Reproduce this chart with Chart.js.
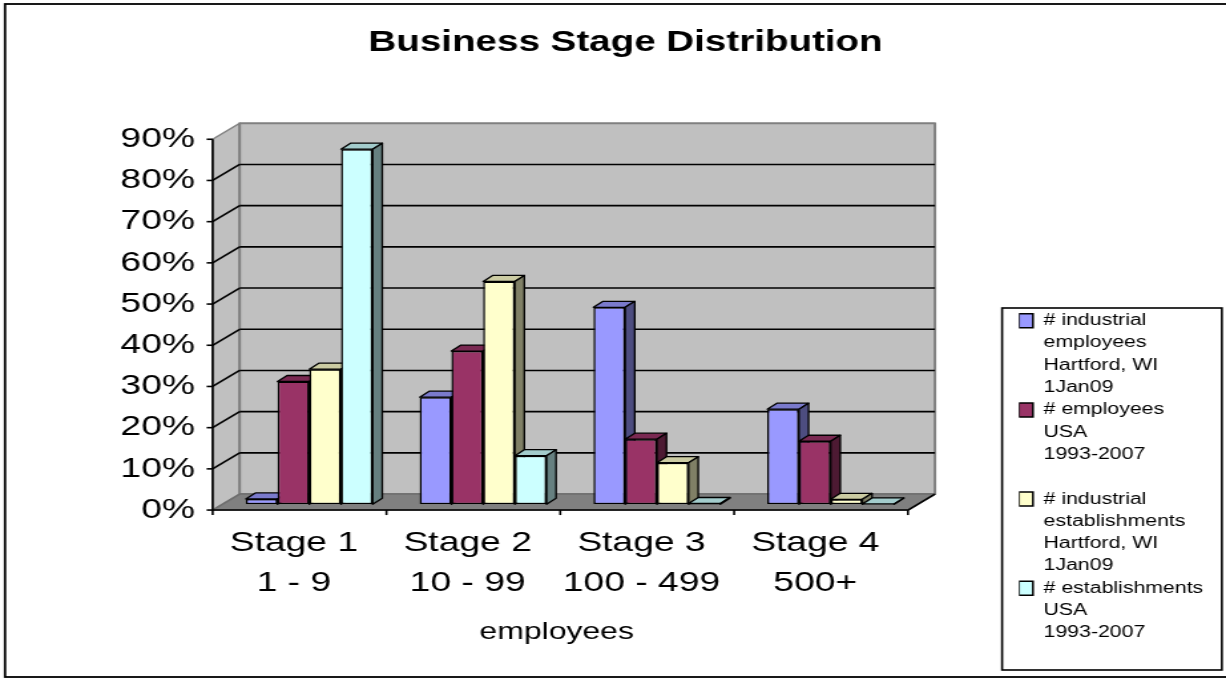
<!DOCTYPE html>
<html>
<head>
<meta charset="utf-8">
<script src="https://cdn.jsdelivr.net/npm/chart.js@4/dist/chart.umd.min.js"></script>
<style>
  html, body { margin: 0; padding: 0; background: #fff; }
  #chart { display: block; }
</style>
</head>
<body>
<!-- the original picture is stretched sideways, so the canvas is too (inline size so Chart.js keeps it) -->
<canvas id="chart" width="922" height="680" style="width:1226px;height:680px"></canvas>
<script>
// values, in percent
const stages = [['Stage 1', '1 - 9'], ['Stage 2', '10 - 99'], ['Stage 3', '100 - 499'], ['Stage 4', '500+']];
const industrialEmployees = [1.3, 26.0, 47.8, 23.1];
const employeesUSA = [29.8, 37.2, 15.8, 15.3];
const industrialEstablishments = [32.8, 54.1, 10.1, 1.2];
const establishmentsUSA = [86.2, 11.8, 0.2, 0.1];
const yTicks = [0, 10, 20, 30, 40, 50, 60, 70, 80, 90];

const legendLines = [
    ['# industrial', 'employees', 'Hartford, WI', '1Jan09'],
    ['# employees', 'USA', '1993-2007', ''],
    ['# industrial', 'establishments', 'Hartford, WI', '1Jan09'],
    ['# establishments', 'USA', '1993-2007']
];

const FONT = '"Liberation Sans", Arial, sans-serif';
const W = 922;

// colours: front face, top face, side face
const colors = [
    ['#9999ff', '#7a7acc', '#4d4d80'],
    ['#993366', '#7a2952', '#4d1a33'],
    ['#ffffcc', '#ccccA3', '#808066'],
    ['#ccffff', '#a3cccc', '#668080']
];

// depth of the box (front -> back) and where the bars stand in it
const DX = 20.3, DY = -16, FRONT = 0.36;
const BAR_DX = 7.2, BAR_DY = -6;

// legend placement: work out the right padding so the legend starts at x=766
const mctx = document.createElement('canvas').getContext('2d');
mctx.font = '16px ' + FONT;
let maxText = 0;
legendLines.flat().forEach(t => { maxText = Math.max(maxText, mctx.measureText(t).width); });
const legendWidth = 10.5 + 8 + maxText + 10;
const padRight = W - 766.3 - legendWidth;

function poly(ctx, pts, fill, stroke, lw) {
    ctx.beginPath();
    ctx.moveTo(pts[0][0], pts[0][1]);
    for (let i = 1; i < pts.length; i++) ctx.lineTo(pts[i][0], pts[i][1]);
    ctx.closePath();
    if (fill) { ctx.fillStyle = fill; ctx.fill(); }
    if (stroke) { ctx.strokeStyle = stroke; ctx.lineWidth = lw; ctx.stroke(); }
}

function line(ctx, x1, y1, x2, y2) {
    ctx.beginPath();
    ctx.moveTo(x1, y1);
    ctx.lineTo(x2, y2);
    ctx.stroke();
}

// walls, floor, axes and the top/side faces of the bars
const box3d = {
    id: 'box3d',
    beforeDatasetsDraw(chart) {
        const ctx = chart.ctx;
        const xs = chart.scales.x, ys = chart.scales.y;
        const L = xs.left, R = xs.right;
        const fx = -FRONT * DX, fy = -FRONT * DY;
        const bx = (1 - FRONT) * DX, by = (1 - FRONT) * DY;
        const y0 = ys.getPixelForValue(0);
        const yTop = ys.getPixelForValue(yTicks[yTicks.length - 1]);

        ctx.save();
        ctx.lineJoin = 'round';
        // left wall, back wall, floor
        poly(ctx, [[L + fx, y0 + fy], [L + fx, yTop + fy], [L + bx, yTop + by], [L + bx, y0 + by]], '#c0c0c0', '#808080', 1.5);
        poly(ctx, [[L + bx, yTop + by], [R + bx, yTop + by], [R + bx, y0 + by], [L + bx, y0 + by]], '#c0c0c0', '#808080', 2);
        poly(ctx, [[L + fx, y0 + fy], [R + fx, y0 + fy], [R + bx, y0 + by], [L + bx, y0 + by]], '#808080', '#6e6e6e', 1.5);

        // grid lines on both walls
        ctx.strokeStyle = '#000';
        ctx.lineWidth = 1.6;
        yTicks.forEach(v => {
            if (v === 0 || v === yTicks[yTicks.length - 1]) return;
            const p = ys.getPixelForValue(v);
            line(ctx, L + fx, p + fy, L + bx, p + by);
            line(ctx, L + bx, p + by, R + bx, p + by);
        });
        line(ctx, R + fx, y0 + fy, R + bx, y0 + by);

        // front axes with tick marks
        line(ctx, L + fx, yTop + fy, L + fx, y0 + fy);
        line(ctx, L + fx, y0 + fy, R + fx, y0 + fy);
        yTicks.forEach(v => {
            const p = ys.getPixelForValue(v) + fy;
            line(ctx, L + fx - 4.5, p, L + fx, p);
        });
        for (let i = 0; i <= stages.length; i++) {
            const px = L + (R - L) * i / stages.length + fx;
            line(ctx, px, y0 + fy, px, y0 + fy + 5);
        }

        // top and side faces, painted left to right inside each group
        const metas = chart.data.datasets.map((d, i) => chart.getDatasetMeta(i));
        for (let j = 0; j < stages.length; j++) {
            metas.forEach((meta, i) => {
                const el = meta.data[j];
                if (!el) return;
                const p = el.getProps(['x', 'y', 'base', 'width'], true);
                const left = p.x - p.width / 2, right = p.x + p.width / 2;
                const top = Math.min(p.y, p.base), base = Math.max(p.y, p.base);
                poly(ctx, [[left, top], [right, top], [right + BAR_DX, top + BAR_DY], [left + BAR_DX, top + BAR_DY]], colors[i][1], '#000', 1.3);
                poly(ctx, [[right, top], [right + BAR_DX, top + BAR_DY], [right + BAR_DX, base + BAR_DY], [right, base]], colors[i][2], '#000', 1.3);
            });
        }
        ctx.restore();
    },
    afterDraw(chart) {
        const ctx = chart.ctx;
        const lg = chart.legend;
        ctx.save();
        ctx.strokeStyle = '#000';
        ctx.lineWidth = 1.6;
        // legend frame
        ctx.strokeRect(lg.left - 12.7, 308, (lg.right + 4) - (lg.left - 12.7), 362);
        // outer frame (the right side runs off the picture)
        ctx.lineWidth = 1.8;
        ctx.strokeRect(3.8, 4, W + 10, 673);
        ctx.restore();
    }
};

Chart.defaults.color = '#000';
Chart.defaults.font.family = FONT;

const seriesValues = [industrialEmployees, employeesUSA, industrialEstablishments, establishmentsUSA];

new Chart(document.getElementById('chart'), {
    type: 'bar',
    data: {
        labels: stages,
        datasets: seriesValues.map((vals, i) => ({
            label: legendLines[i].join(' ').trim(),
            data: vals,
            backgroundColor: colors[i][0],
            borderColor: '#000',
            borderWidth: 1.5,
            borderSkipped: false,
            categoryPercentage: 0.73,
            barPercentage: 1.0
        }))
    },
    options: {
        responsive: false,
        animation: false,
        devicePixelRatio: 1,
        layout: { padding: { left: 26, right: padRight, top: 4, bottom: 32.8 } },
        plugins: {
            title: {
                display: true,
                text: 'Business Stage Distribution',
                font: { size: 29, weight: 'bold', lineHeight: 1.2 },
                padding: { top: 21.6, bottom: 73.1 }
            },
            legend: {
                position: 'right',
                align: 'end',
                maxWidth: 400,
                labels: {
                    boxWidth: 10.5,
                    boxHeight: 14,
                    padding: 0,
                    font: { size: 16, lineHeight: 22.3 / 16 },
                    generateLabels: chart => chart.data.datasets.map((ds, i) => ({
                        text: legendLines[i],
                        fillStyle: ds.backgroundColor,
                        strokeStyle: '#000',
                        lineWidth: 1.5,
                        hidden: false,
                        datasetIndex: i
                    }))
                }
            },
            tooltip: { enabled: false }
        },
        scales: {
            x: {
                grid: { display: false, drawTicks: false },
                border: { display: false },
                ticks: {
                    font: { size: 28, lineHeight: 1.43 },
                    padding: 18.7,
                    labelOffset: -11.6,
                    maxRotation: 0,
                    autoSkip: false
                },
                title: {
                    display: true,
                    text: 'employees   ',
                    font: { size: 24, lineHeight: 1.2 },
                    padding: { top: 0, bottom: 0 }
                },
                afterFit: s => { s.height = 142.9; }
            },
            y: {
                position: 'left',
                min: yTicks[0],
                max: yTicks[yTicks.length - 1],
                grid: { display: false, drawTicks: false },
                border: { display: false },
                ticks: {
                    stepSize: 10,
                    autoSkip: false,
                    font: { size: 28 },
                    padding: 20.6,
                    labelOffset: 5.7,
                    callback: v => v + '%'
                },
                afterFit: s => { s.width = 141.2; }
            },
            // empty strip between the plot and the legend
            y2: {
                position: 'right',
                grid: { display: false, drawTicks: false },
                border: { display: false },
                ticks: { display: false },
                afterFit: s => { s.width = 76.2; }
            }
        }
    },
    plugins: [box3d]
});
</script>
</body>
</html>
